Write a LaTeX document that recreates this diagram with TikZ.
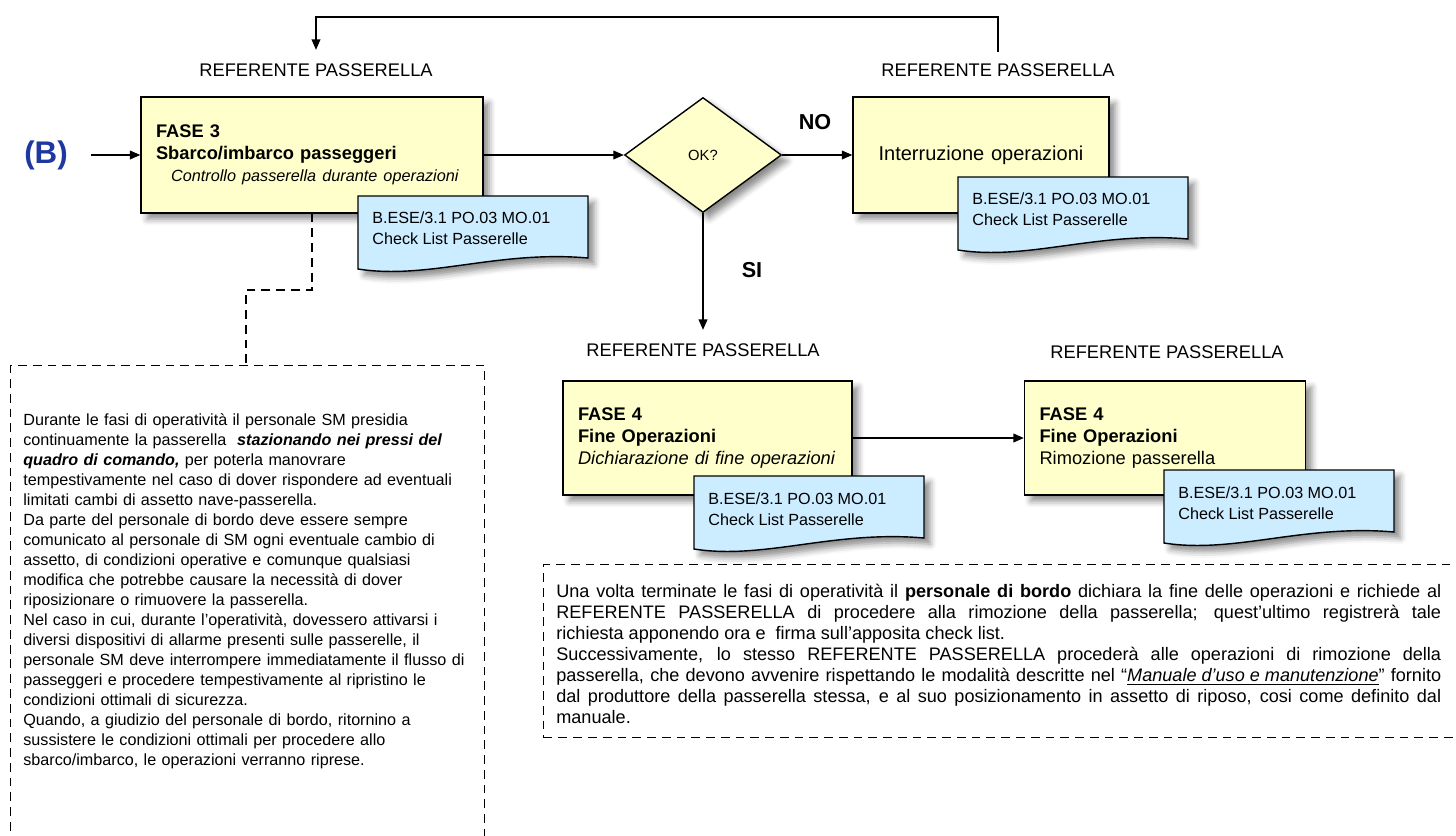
\documentclass[tikz,border=0pt]{standalone}
\usepackage{fontspec}
\setmainfont{Liberation Sans}
\usetikzlibrary{arrows.meta,positioning,shapes.geometric,shadows.blur}

\definecolor{giallo}{RGB}{255,255,204}
\definecolor{azzurro}{RGB}{204,236,255}
\definecolor{blub}{RGB}{30,56,160}

\tikzset{
  ombra/.style={blur shadow={shadow xshift=3.5pt,shadow yshift=-3.5pt,shadow blur radius=3.5pt,shadow opacity=45}},
  fase/.style={draw,line width=0.8pt,fill=giallo,ombra,inner xsep=0.3cm,inner ysep=0pt,
    align=left,font=\fontsize{10.4}{12.5}\selectfont},
  decisione/.style={diamond,draw,line width=0.8pt,fill=giallo,ombra,aspect=1.37,inner sep=0pt,
    minimum width=3.14cm,minimum height=2.3cm,font=\fontsize{8.4}{10}\selectfont},
  lista/.style={draw,line width=0.8pt,fill=azzurro,ombra},
  listatesto/.style={inner sep=0pt,align=left,font=\fontsize{9.2}{12.2}\selectfont},
  ruolo/.style={font=\fontsize{10.4}{12}\selectfont},
  esito/.style={font=\fontsize{12.3}{14}\selectfont\bfseries},
  nota/.style={draw,dashed,line width=0.8pt,dash pattern=on 5pt off 3.4pt,inner sep=0pt},
  testo/.style={inner sep=0pt,align=left},
  freccia/.style={line width=0.8pt,-{Triangle[length=6pt,width=5pt]}},
  tratteggio/.style={line width=0.8pt,dash pattern=on 5pt off 3.4pt}
}

\newcommand{\fogliolista}{(0,0) -- (230,0) -- (230,62) .. controls (140,54) and (70,84) .. (0,73) -- cycle}

\begin{document}
\begin{tikzpicture}[x=0.02cm,y=-0.02cm]
\useasboundingbox (0,0) rectangle (1456,835);

\node[font=\fontsize{17.8}{20}\selectfont\bfseries,text=blub] (lettB) at (46,155) {(B)};

\node[ruolo] (refL) at (316,70) {REFERENTE PASSERELLA};
\node[ruolo] (refR) at (998,70) {REFERENTE PASSERELLA};
\node[ruolo] (refC) at (703,350) {REFERENTE PASSERELLA};
\node[ruolo] (refD) at (1167,352) {REFERENTE PASSERELLA};

\node[fase,text width=6.24cm,minimum height=2.32cm] (fase3) at (312,155)
  {\textbf{FASE 3}\\ \textbf{Sbarco/imbarco passeggeri}\\
   {\fontsize{9.25}{12.5}\selectfont\itshape\hspace*{0.3cm}Controllo passerella durante operazioni}};
\begin{scope}[shift={(358,196)}]
  \path[lista] \fogliolista;
  \node[listatesto,anchor=north west] (lista1) at (14,15) {B.ESE/3.1 PO.03 MO.01\\Check List Passerelle};
\end{scope}

\node[decisione] (ok) at (703,155) {OK?};
\node[esito] (no) at (815,122) {NO};
\node[esito] (si) at (752,270) {SI};

\node[fase,align=center,text width=4.52cm,minimum height=2.32cm,font=\fontsize{11.4}{13}\selectfont] (interr) at (981,155)
  {Interruzione operazioni};
\begin{scope}[shift={(958,177)}]
  \path[lista] \fogliolista;
  \node[listatesto,anchor=north west] (lista2) at (14,15) {B.ESE/3.1 PO.03 MO.01\\Check List Passerelle};
\end{scope}

\node[fase,text width=5.18cm,minimum height=2.28cm] (fase4a) at (707.5,438)
  {\textbf{FASE 4}\\ \textbf{Fine Operazioni}\\ \textit{Dichiarazione di fine operazioni}};
\begin{scope}[shift={(694,476)}]
  \path[lista] \fogliolista;
  \node[listatesto,anchor=north west] (lista3) at (14,16) {B.ESE/3.1 PO.03 MO.01\\Check List Passerelle};
\end{scope}

\node[fase,text width=5.02cm,minimum height=2.28cm] (fase4b) at (1165,438)
  {\textbf{FASE 4}\\ \textbf{Fine Operazioni}\\ Rimozione passerella};
\begin{scope}[shift={(1164,470)}]
  \path[lista] \fogliolista;
  \node[listatesto,anchor=north west] (lista4) at (14,16) {B.ESE/3.1 PO.03 MO.01\\Check List Passerelle};
\end{scope}

\node[nota,anchor=north west,minimum width=9.48cm,minimum height=10cm] (notaSM) at (10,365) {};
\node[testo,anchor=north west,text width=9.2cm,font=\fontsize{9.2}{11.4}\selectfont] (testoSM) at (23,413)
  {Durante le fasi di operatività il personale SM presidia\\
   continuamente la passerella \ \textbf{\textit{stazionando nei pressi del}}\\
   \textbf{\textit{quadro di comando,}} per poterla manovrare\\
   tempestivamente nel caso di dover rispondere ad eventuali\\
   limitati cambi di assetto nave-passerella.\\
   Da parte del personale di bordo deve essere sempre\\
   comunicato al personale di SM ogni eventuale cambio di\\
   assetto, di condizioni operative e comunque qualsiasi\\
   modifica che potrebbe causare la necessità di dover\\
   riposizionare o rimuovere la passerella.\\
   Nel caso in cui, durante l’operatività, dovessero attivarsi i\\
   diversi dispositivi di allarme presenti sulle passerelle, il\\
   personale SM deve interrompere immediatamente il flusso di\\
   passeggeri e procedere tempestivamente al ripristino le\\
   condizioni ottimali di sicurezza.\\
   Quando, a giudizio del personale di bordo, ritornino a\\
   sussistere le condizioni ottimali per procedere allo\\
   sbarco/imbarco, le operazioni verranno riprese.};

\node[nota,anchor=north west,minimum width=19cm,minimum height=3.46cm] (notaFine) at (543,564) {};
\node[testo,anchor=north west,align=justify,text width=17.7cm,font=\fontsize{10.3}{11.9}\selectfont] (testoFine) at (556,584)
  {Una volta terminate le fasi di operatività il \textbf{personale di bordo} dichiara la fine delle operazioni e richiede al\linebreak
   REFERENTE PASSERELLA di procedere alla rimozione della passerella; quest’ultimo registrerà tale\linebreak
   richiesta apponendo ora e \ firma sull’apposita check list.\\
   Successivamente, lo stesso REFERENTE PASSERELLA procederà alle operazioni di rimozione della\linebreak
   passerella, che devono avvenire rispettando le modalità descritte nel “\underline{\textit{Manuale d’uso e manutenzione}}” fornito\linebreak
   dal produttore della passerella stessa, e al suo posizionamento in assetto di riposo, cosi come definito dal\linebreak
   manuale.};

\coordinate (ritorno) at (998,17);
\coordinate (gomito) at (246,290);
\draw[freccia,shorten <=10pt] (lettB.east) -- (fase3.west);
\draw[freccia] (fase3.east) -- (ok.west);
\draw[freccia] (ok.east) -- (interr.west);
\draw[freccia,shorten >=4.25pt] (ok.south) -- (refC.north);
\draw[freccia] (fase4a.east) -- (fase4b.west);
\draw[freccia,shorten <=3pt,shorten >=4.25pt] (refR.north) -- (refR.north |- ritorno) -| (refL.north);
\draw[tratteggio] (fase3.south) |- (gomito) -- (gomito |- notaSM.north);
\end{tikzpicture}
\end{document}
